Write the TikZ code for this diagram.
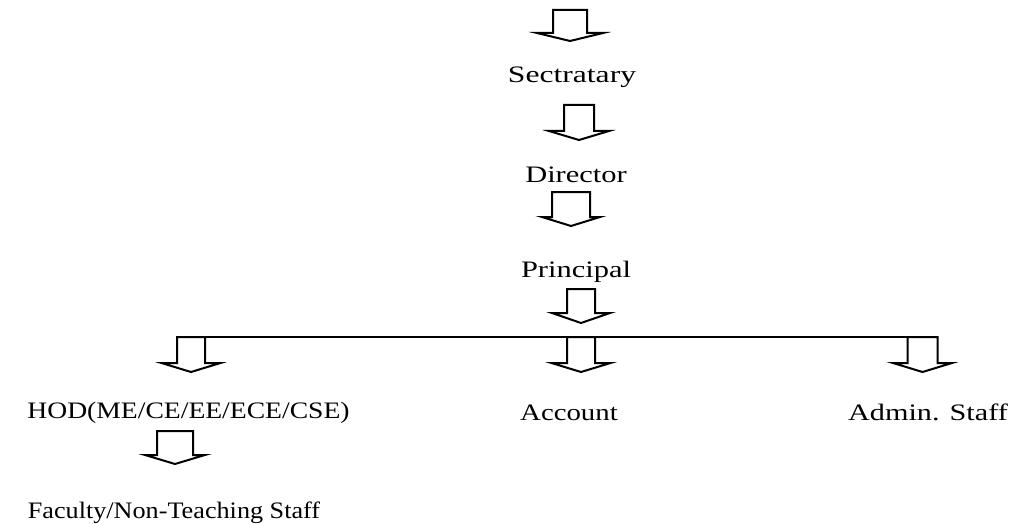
\documentclass[tikz,border=0pt]{standalone}
\usepackage{fontspec}
\setmainfont{Liberation Serif}
\newcommand\blockarr[6]{% cx, top, shaft half, wing y, wing half, tip y
  \draw[blockarrow] (#1-#3,#2) -- (#1+#3,#2) -- (#1+#3,#4) -- (#1+#5,#4) -- (#1,#6) -- (#1-#5,#4) -- (#1-#3,#4) -- cycle;}
\tikzset{
  blockarrow/.style={draw=black, line width=1.5pt, line join=miter},
  lbl/.style={anchor=base, inner sep=0pt, font=\fontsize{17.7}{20}\selectfont},
}
\newcommand\wide[2]{\scalebox{#1}[1]{#2}}
\begin{document}
\begin{tikzpicture}[x=0.75pt, y=-0.75pt]
\useasboundingbox (0,0) rectangle (1013,524);
% arrows
\blockarr{570}{10}{17}{33}{33}{41}
\node[lbl] (sec) at (572,83) {\wide{1.34}{Sectratary}};
\blockarr{579}{105}{15}{131}{30}{140}
\node[lbl] (dir) at (576,182) {\wide{1.29}{Director}};
\blockarr{571}{192}{19}{217}{29}{226}
\node[lbl] (pri) at (576,277) {\wide{1.29}{Principal}};
\blockarr{581}{289}{14}{313}{29}{323}
% bar
\coordinate (barL) at (177,337);
\coordinate (barR) at (938,337);
\draw[line width=1.5pt] (barL) -- (barR);
\blockarr{191}{337}{14}{363}{29.5}{372}
\blockarr{581}{337}{14}{363}{29.5}{372}
\blockarr{922.5}{337}{15}{363}{29.5}{372}
\node[lbl] (hod) at (188.5,418) {\wide{1.17}{HOD(ME/CE/EE/ECE/CSE)}};
\node[lbl] (acc) at (569,420) {\wide{1.22}{Account}};
\node[lbl] (adm) at (928,420) {\wide{1.28}{Admin. Staff}};
\blockarr{175}{431}{18}{455}{30}{464}
\node[lbl] (fac) at (174,518) {\wide{1.11}{Faculty/Non-Teaching Staff}};
\end{tikzpicture}
\end{document}
